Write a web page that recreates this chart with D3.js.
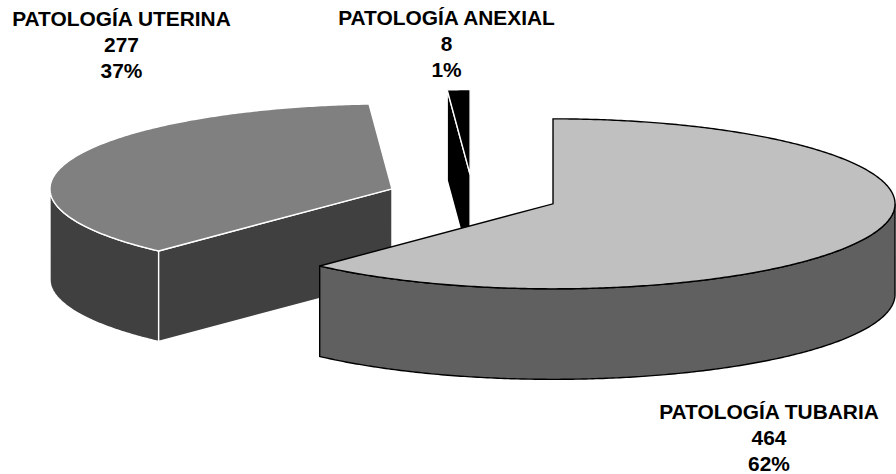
<!DOCTYPE html>
<html><head><meta charset="utf-8">
<script src="https://cdn.jsdelivr.net/npm/d3@7/dist/d3.min.js"></script>
<style>html,body{margin:0;padding:0;background:#fff}svg{display:block}
text{font-family:"Liberation Sans",Arial,sans-serif;font-weight:700;font-size:20.9px;fill:#000;text-anchor:middle}</style>
</head><body><svg id="c" width="896" height="474"></svg>
<script>
const categories=["PATOLOGÍA TUBARIA","PATOLOGÍA UTERINA","PATOLOGÍA ANEXIAL"];
const counts=[464,277,8];
const percents=["62%","37%","1%"];
const topColors=["#C0C0C0","#808080","#000000"];
const sideColors=["#606060","#404040","#000000"];
const edgeColors=["#000000","#FFFFFF","#FFFFFF"];
const labelX=[769,121.5,446.5];
const labelY=[419,25.7,25];

const cx=473,cy=196,rx=342,ry=85,depth=90.5,explode=86;
const k=ry/rx;
const svg=d3.select("#c");
const pie=d3.pie().sort(null).value(d=>d);
const arcs=pie(counts);
const line=d3.line();

arcs.forEach((d,i)=>{
  const mid=(d.startAngle+d.endAngle)/2;
  d.ax=cx+explode*Math.sin(mid);
  d.ay=cy-explode*k*Math.cos(mid);
  d.i=i;
});
const pt=(d,a,dz=0)=>[d.ax+rx*Math.sin(a),d.ay-ry*Math.cos(a)+dz];
const rim=(d,a0,a1,dz=0)=>{
  const n=Math.max(2,Math.ceil(Math.abs(a1-a0)/0.01));
  return d3.range(n+1).map(j=>pt(d,a0+(a1-a0)*j/n,dz));
};
const H=Math.PI/2, TH=3*Math.PI/2;

function drawSlice(d){
  const i=d.i, g=svg.append("g");
  const style=s=>s.attr("stroke",edgeColors[i]).attr("stroke-width",1.4).attr("stroke-linejoin","miter").attr("stroke-miterlimit",3);
  const w0=Math.max(d.startAngle,H), w1=Math.min(d.endAngle,TH);
  if(w1>w0){
    const top=rim(d,w0,w1), bot=rim(d,w1,w0,depth);
    style(g.append("path").attr("d",line(top.concat(bot))+"Z").attr("fill",sideColors[i]));
  }
  const apex=[d.ax,d.ay], apexB=[d.ax,d.ay+depth];
  if(i>0){
    const p=pt(d,d.startAngle),q=pt(d,d.startAngle,depth);
    style(g.append("path").attr("d",line([apex,p,q,apexB])+"Z").attr("fill",sideColors[i]));
  }
  style(g.append("path").attr("d",line([apex].concat(rim(d,d.startAngle,d.endAngle)))+"Z").attr("fill",topColors[i]));
}
[1,2,0].forEach(i=>drawSlice(arcs[i]));

const gaps=[26,26.3,25.8];
categories.forEach((c,i)=>{
  const t=svg.append("text").attr("x",labelX[i]).attr("y",labelY[i]);
  [c,String(counts[i]),percents[i]].forEach((s,j)=>{
    t.append("tspan").attr("x",labelX[i]).attr("dy",j?gaps[i]:0).text(s);
  });
});
</script></body></html>
